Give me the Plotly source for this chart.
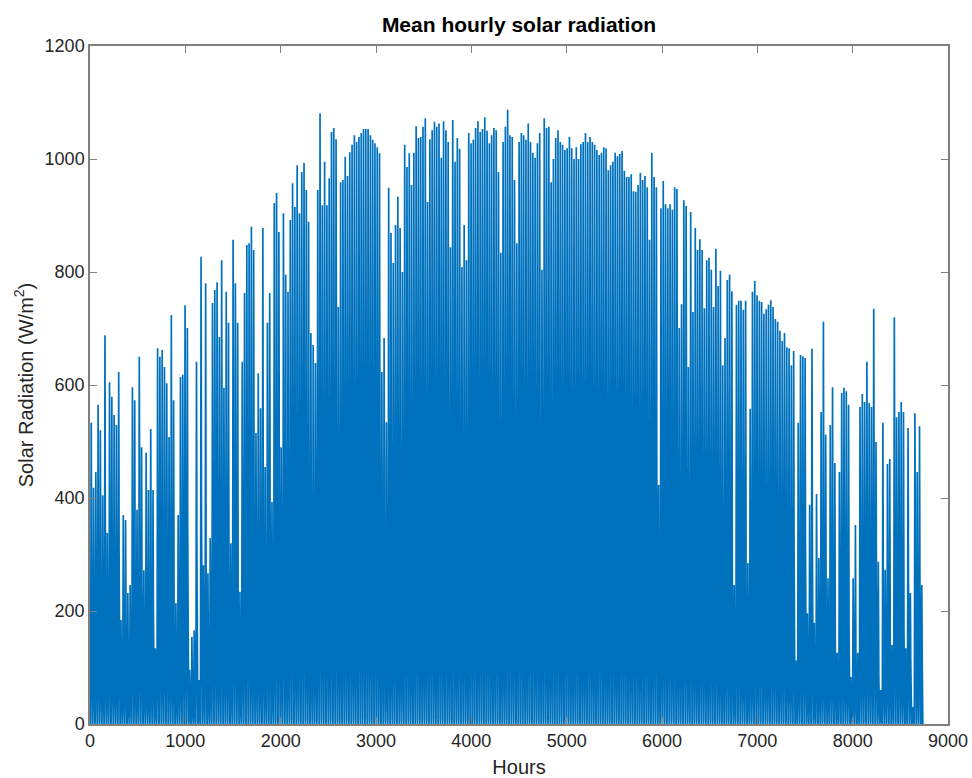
import numpy as np
import plotly.graph_objects as go

# Daily peak of the mean hourly solar radiation (W/m^2), one value per day of the year
DAILY_PEAK = [
    # days 1-46
    533, 418, 446, 565, 520, 405, 688, 338, 605, 579, 547, 529, 623, 184, 370, 361,
    232, 246, 596, 573, 379, 650, 490, 272, 480, 414, 522, 414, 134, 665, 650, 662,
    632, 603, 508, 724, 573, 214, 370, 614, 618, 741, 701, 96, 154, 166,
    # days 47-87
    641, 78, 827, 281, 780, 267, 329, 745, 768, 782, 685, 821, 595, 765, 710, 320,
    857, 780, 710, 234, 641, 763, 848, 851, 880, 839, 515, 621, 559, 878, 455, 710,
    763, 393, 922, 940, 871, 490, 904, 795, 765,
    # days 88-131
    892, 957, 915, 989, 904, 977, 993, 945, 889, 692, 671, 639, 945, 1081, 918, 995,
    918, 966, 1048, 1055, 1035, 738, 959, 963, 1004, 970, 1012, 1025, 1042, 1030,
    1039, 1046, 1053, 1053, 1053, 1042, 1034, 1028, 1021, 1010, 623, 683, 534, 949,
    # days 132-174
    869, 816, 883, 933, 878, 800, 1025, 986, 1010, 954, 1011, 1058, 1037, 1039, 1057,
    1072, 924, 1035, 1051, 1066, 1057, 1063, 1002, 1067, 1051, 1030, 844, 1069, 995,
    1037, 1018, 809, 883, 821, 1046, 1028, 1034, 1055, 1067, 1048, 1053, 1074, 1050,
    # days 175-217
    1028, 1042, 1055, 1051, 977, 834, 1030, 1057, 1087, 1042, 1039, 963, 851, 1030,
    1046, 1042, 1034, 1063, 1030, 1011, 1002, 1028, 1046, 804, 1072, 1055, 1057, 959,
    1000, 1037, 1051, 1030, 1025, 1016, 1019, 1039, 1019, 1000, 1021, 1000, 1026,
    1030, 1046,
    # days 218-262
    1030, 1039, 1030, 1025, 1016, 1007, 1011, 1021, 1019, 980, 989, 995, 1011, 1005,
    1009, 1014, 979, 968, 968, 973, 943, 942, 954, 975, 963, 970, 950, 857, 1011, 968,
    950, 423, 913, 961, 920, 913, 920, 910, 950, 947, 701, 743, 927, 917, 632,
    # days 263-304
    906, 729, 878, 839, 858, 839, 736, 821, 825, 804, 738, 841, 775, 802, 635, 683,
    786, 795, 766, 246, 742, 749, 749, 733, 749, 285, 558, 765, 784, 759, 749, 747,
    726, 734, 742, 750, 738, 717, 712, 696, 678, 692,
    # days 305-364
    667, 665, 635, 660, 113, 533, 653, 651, 648, 196, 388, 664, 179, 407, 294, 552,
    712, 512, 258, 529, 596, 462, 126, 446, 586, 595, 589, 565, 83, 258, 352, 126,
    561, 584, 570, 641, 568, 561, 735, 499, 287, 60, 533, 273, 460, 469, 140, 720,
    543, 552, 570, 552, 134, 524, 232, 30, 550, 446, 527, 246,
]

# Fraction of the daily peak reached in each hour of the day (00:00 ... 23:00)
HOURLY_SHAPE = [0, 0, 0, 0, 0, 0.01, 0.06, 0.2, 0.4, 0.6, 0.78, 0.92,
                1.0, 0.97, 0.87, 0.7, 0.5, 0.3, 0.12, 0.03, 0, 0, 0, 0]

X_TICKS = [0, 1000, 2000, 3000, 4000, 5000, 6000, 7000, 8000, 9000]
Y_TICKS = [0, 200, 400, 600, 800, 1000, 1200]

radiation = (np.array(DAILY_PEAK, dtype=float)[:, None]
             * np.array(HOURLY_SHAPE)[None, :]).ravel()
hours = np.arange(1, radiation.size + 1)

FONT = "Liberation Sans, Arial, Helvetica, sans-serif"
AXIS_COLOR = "#808080"
TEXT_COLOR = "#262626"

fig = go.Figure(
    go.Scatter(
        x=hours,
        y=radiation,
        mode="lines",
        line=dict(color="#0072BD", width=1.7),
        hoverinfo="x+y",
        showlegend=False,
    )
)

axis_common = dict(
    automargin=False,
    showgrid=False,
    zeroline=False,
    showline=True,
    linecolor=AXIS_COLOR,
    linewidth=1.5,
    mirror="ticks",
    ticks="inside",
    ticklen=7,
    tickwidth=1,
    tickcolor=AXIS_COLOR,
    tickfont=dict(family=FONT, size=18, color=TEXT_COLOR),
)

fig.update_layout(
    width=972,
    height=778,
    margin=dict(l=90, r=24, t=46, b=54),
    paper_bgcolor="white",
    plot_bgcolor="white",
    title=dict(
        text="<b>Mean hourly solar radiation</b>",
        font=dict(family=FONT, size=21, color="black"),
        x=519 / 972,
        xanchor="center",
        y=1 - 25 / 778,
        yanchor="middle",
    ),
    xaxis=dict(
        range=[0, 9000],
        tickvals=X_TICKS,
        ticktext=[str(v) for v in X_TICKS],
        title=dict(text="Hours", font=dict(family=FONT, size=20, color=TEXT_COLOR), standoff=10),
        **axis_common,
    ),
    yaxis=dict(
        range=[0, 1200],
        tickvals=Y_TICKS,
        ticktext=[str(v) for v in Y_TICKS],
        title=dict(text="Solar Radiation (W/m<sup>2</sup>)",
                   font=dict(family=FONT, size=20, color=TEXT_COLOR), standoff=6),
        **axis_common,
    ),
)

fig.write_html("out.html")
